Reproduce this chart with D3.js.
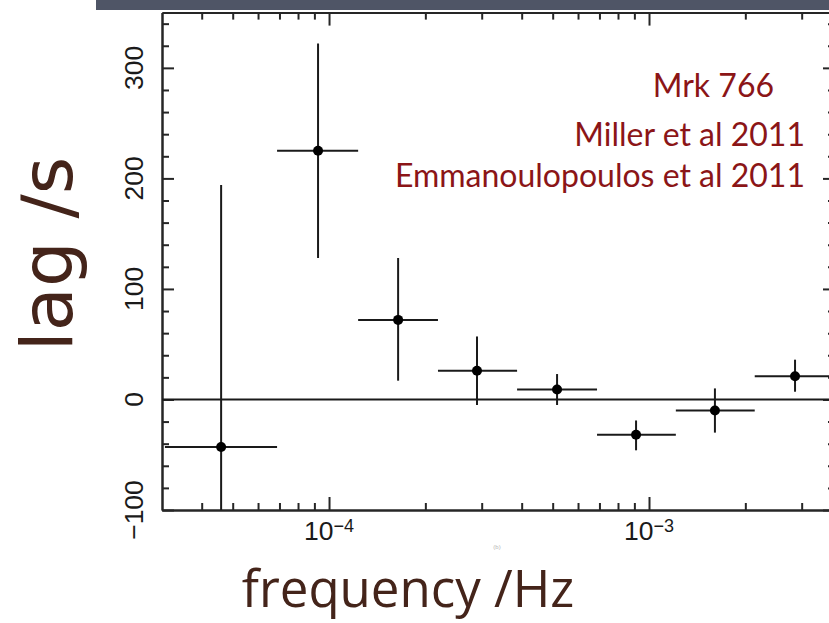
<!DOCTYPE html>
<html>
<head>
<meta charset="utf-8">
<script src="https://cdn.jsdelivr.net/npm/d3@7"></script>
<style>
  html, body { margin: 0; padding: 0; background: #ffffff; }
  svg { display: block; }
</style>
</head>
<body>
<svg id="chart" width="829" height="623"></svg>
<script>
// ---- data ----
const freq     = [4.6e-5, 9.24e-5, 1.644e-4, 2.90e-4, 5.16e-4, 9.11e-4, 1.607e-3, 2.86e-3];
const freqLow  = [3.07e-5, 6.88e-5, 1.233e-4, 2.19e-4, 3.87e-4, 6.88e-4, 1.213e-3, 2.14e-3];
const freqHigh = [6.88e-5, 1.233e-4, 2.19e-4, 3.87e-4, 6.88e-4, 1.213e-3, 2.14e-3, 3.8e-3];
const lag      = [-43, 225, 72, 26, 9, -32, -10, 21];
const lagLow   = [-280, 128, 17, -5, -5, -46, -30, 7];
const lagHigh  = [194, 322, 128, 57, 23, -19, 10, 36];

const yMajorTicks = [-100, 0, 100, 200, 300];
const yTickLabels = ["\u2212100", "0", "100", "200", "300"];
const xMajorTicks = [1e-4, 1e-3];
const xTickExponents = ["\u22124", "\u22123"];
const xMinorTicks = [4e-5, 5e-5, 6e-5, 7e-5, 8e-5, 9e-5,
                     2e-4, 3e-4, 4e-4, 5e-4, 6e-4, 7e-4, 8e-4, 9e-4,
                     2e-3, 3e-3];
const annotations = ["Mrk 766", "Miller et al 2011", "Emmanoulopoulos et al 2011"];
const xTitle = "frequency /Hz";
const yTitle = "lag /s";
const panelTag = "(b)";

(function () {
// ---- layout ----
const svg = d3.select("#chart");
const pLeft = 162, pRight = 835, pTop = 12.6, pBottom = 510;
const x = d3.scaleLog().domain([3.006e-5, 3.813e-3]).range([pLeft, pRight]);
const y = d3.scaleLinear().domain([-100, 350]).range([pBottom, pTop]);
const axisColor = "#262626";

// top slide band
svg.append("rect").attr("x", 96).attr("y", 0).attr("width", 733).attr("height", 10)
  .attr("fill", "#4f5566");

const yMinor = d3.range(-80, 350, 20).filter(v => v % 100 !== 0);

function styleAxis(g) {
  g.selectAll("path.domain").attr("stroke", axisColor).attr("stroke-width", 2);
  g.selectAll(".tick line").attr("stroke", axisColor).attr("stroke-width", 2);
  g.selectAll("text").remove();
}

// left axis
svg.append("g").attr("transform", `translate(${pLeft},0)`)
  .call(d3.axisLeft(y).tickValues(yMajorTicks).tickSize(-12).tickSizeOuter(0).tickFormat(""))
  .call(styleAxis);
svg.append("g").attr("transform", `translate(${pLeft},0)`)
  .call(d3.axisLeft(y).tickValues(yMinor).tickSize(-7).tickSizeOuter(0).tickFormat(""))
  .call(styleAxis);
// right axis
svg.append("g").attr("transform", `translate(${pRight},0)`)
  .call(d3.axisRight(y).tickValues(yMajorTicks).tickSize(-12).tickSizeOuter(0).tickFormat(""))
  .call(styleAxis);
svg.append("g").attr("transform", `translate(${pRight},0)`)
  .call(d3.axisRight(y).tickValues(yMinor).tickSize(-7).tickSizeOuter(0).tickFormat(""))
  .call(styleAxis);
// bottom axis
svg.append("g").attr("transform", `translate(0,${pBottom})`)
  .call(d3.axisBottom(x).tickValues(xMajorTicks).tickSize(-13).tickSizeOuter(0).tickFormat(""))
  .call(styleAxis);
svg.append("g").attr("transform", `translate(0,${pBottom})`)
  .call(d3.axisBottom(x).tickValues(xMinorTicks).tickSize(-7).tickSizeOuter(0).tickFormat(""))
  .call(styleAxis);
// top axis
svg.append("g").attr("transform", `translate(0,${pTop})`)
  .call(d3.axisTop(x).tickValues(xMajorTicks).tickSize(-13).tickSizeOuter(0).tickFormat(""))
  .call(styleAxis);
svg.append("g").attr("transform", `translate(0,${pTop})`)
  .call(d3.axisTop(x).tickValues(xMinorTicks).tickSize(-7).tickSizeOuter(0).tickFormat(""))
  .call(styleAxis);

// y tick labels (rotated)
svg.append("g").selectAll("text").data(yMajorTicks).join("text")
  .attr("transform", d => `translate(143,${y(d)}) rotate(-90)`)
  .attr("text-anchor", "middle")
  .attr("font-family", "'Liberation Sans', Arial, sans-serif")
  .attr("font-size", 26.5)
  .attr("fill", "#1a1a1a")
  .text((d, i) => yTickLabels[i]);

// x tick labels 10^n
const xl = svg.append("g").selectAll("text").data(xMajorTicks).join("text")
  .attr("x", d => x(d)).attr("y", 540)
  .attr("text-anchor", "middle")
  .attr("font-family", "'Liberation Sans', Arial, sans-serif")
  .attr("fill", "#1a1a1a");
xl.append("tspan").attr("font-size", 26.5).text("10");
xl.append("tspan").attr("font-size", 18).attr("dy", -8).text((d, i) => xTickExponents[i]);

// faint panel tag under the axis
svg.append("text").attr("x", 497).attr("y", 549).attr("text-anchor", "middle")
  .attr("font-family", "'Liberation Sans', Arial, sans-serif")
  .attr("font-size", 6).attr("fill", "#b5b5b5").text(panelTag);

// clip for data
svg.append("clipPath").attr("id", "plotclip").append("rect")
  .attr("x", pLeft).attr("y", pTop).attr("width", pRight - pLeft).attr("height", pBottom - pTop);
const plot = svg.append("g").attr("clip-path", "url(#plotclip)");

// zero line
plot.append("line").attr("x1", pLeft).attr("x2", pRight).attr("y1", y(0)).attr("y2", y(0))
  .attr("stroke", "#1a1a1a").attr("stroke-width", 2);

const idx = d3.range(freq.length);
plot.selectAll("line.xerr").data(idx).join("line").attr("class", "xerr")
  .attr("x1", i => x(freqLow[i])).attr("x2", i => x(freqHigh[i]))
  .attr("y1", i => y(lag[i])).attr("y2", i => y(lag[i]))
  .attr("stroke", "#1a1a1a").attr("stroke-width", 2);
plot.selectAll("line.yerr").data(idx).join("line").attr("class", "yerr")
  .attr("x1", i => x(freq[i])).attr("x2", i => x(freq[i]))
  .attr("y1", i => y(lagLow[i])).attr("y2", i => y(lagHigh[i]))
  .attr("stroke", "#1a1a1a").attr("stroke-width", 2);
plot.selectAll("circle").data(idx).join("circle")
  .attr("cx", i => x(freq[i])).attr("cy", i => y(lag[i])).attr("r", 5)
  .attr("fill", "#000");

// annotations
const annX = [774, 805, 805];
const annY = [97, 146, 187];
svg.append("g").selectAll("text").data(annotations).join("text")
  .attr("x", (d, i) => annX[i]).attr("y", (d, i) => annY[i])
  .attr("text-anchor", "end")
  .attr("font-family", "Lato, 'Open Sans', sans-serif")
  .attr("font-size", 32)
  .attr("fill", "#8b1517")
  .text(d => d);

// axis titles
svg.append("text")
  .attr("transform", "translate(72,254) rotate(-90)")
  .attr("text-anchor", "middle")
  .attr("font-family", "'DejaVu Sans', sans-serif")
  .attr("font-size", 72)
  .attr("fill", "#44241a")
  .text(yTitle);
svg.append("text")
  .attr("x", 408).attr("y", 607)
  .attr("text-anchor", "middle")
  .attr("font-family", "'Open Sans', sans-serif")
  .attr("font-size", 51)
  .attr("fill", "#44241a")
  .text(xTitle);
})();
</script>
</body>
</html>
